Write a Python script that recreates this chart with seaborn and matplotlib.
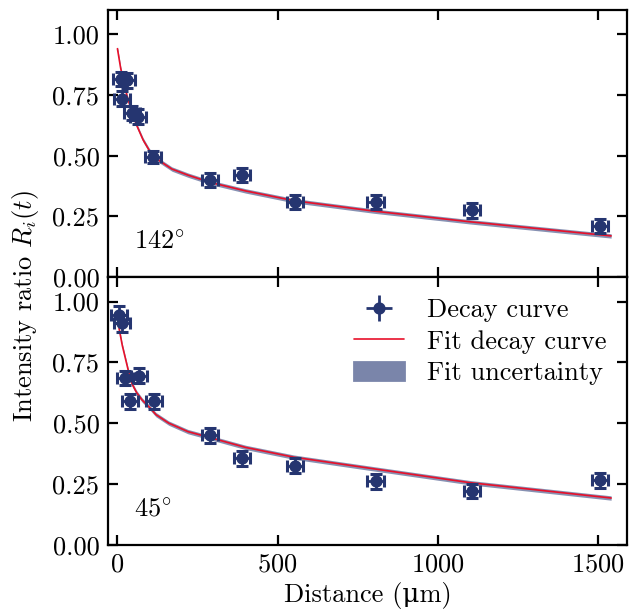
import numpy as np
import pandas as pd
import matplotlib
matplotlib.use("Agg")
import matplotlib.pyplot as plt
import seaborn as sns
from matplotlib.patches import Patch
from matplotlib.lines import Line2D

dist_142 = [10, 30, 15, 45, 65, 110, 290, 390, 555, 805, 1105, 1505]
ratio_142 = [0.815, 0.81, 0.735, 0.675, 0.66, 0.495, 0.40, 0.42, 0.31, 0.31, 0.275, 0.21]
err_142 = [0.03, 0.03, 0.03, 0.03, 0.03, 0.025, 0.03, 0.03, 0.03, 0.03, 0.03, 0.03]

dist_45 = [5, 15, 25, 66, 40, 113, 290, 390, 555, 805, 1105, 1505]
ratio_45 = [0.945, 0.91, 0.685, 0.695, 0.59, 0.59, 0.45, 0.355, 0.325, 0.26, 0.22, 0.265]
err_45 = [0.035, 0.035, 0.03, 0.03, 0.03, 0.03, 0.03, 0.03, 0.03, 0.03, 0.03, 0.03]

dist_err = 25  # incerteza horizontal (um)

# curvas de ajuste
fit_x_142 = [0, 10, 20, 30, 45, 60, 80, 100, 130, 170, 220, 290, 400, 550, 800, 1100, 1540]
fit_y_142 = [0.94, 0.86, 0.80, 0.745, 0.68, 0.625, 0.565, 0.52, 0.48, 0.445, 0.42, 0.39, 0.355, 0.315, 0.272, 0.228, 0.17]
fit_x_45 = [5, 15, 25, 35, 46, 60, 77, 100, 120, 160, 220, 290, 400, 550, 800, 1100, 1540]
fit_y_45 = [0.89, 0.82, 0.765, 0.71, 0.66, 0.625, 0.595, 0.565, 0.535, 0.50, 0.465, 0.44, 0.40, 0.36, 0.312, 0.255, 0.192]
fit_unc = 0.009

angles = [r"$142^{\circ}$", r"$45^{\circ}$"]

sns.set_theme(style="ticks")
plt.rcParams["font.family"] = ["cmr10", "DejaVu Serif"]
plt.rcParams["mathtext.fontset"] = "cm"
plt.rcParams["axes.formatter.use_mathtext"] = True
plt.rcParams["axes.edgecolor"] = "black"
plt.rcParams["xtick.color"] = "black"
plt.rcParams["ytick.color"] = "black"
plt.rcParams["text.color"] = "black"
plt.rcParams["axes.labelcolor"] = "black"
plt.rcParams["axes.linewidth"] = 0.8

fs = 9.5
cor_pontos = "#253570"
cor_fit = "#e8102a"
cor_banda = "#7a85aa"

fig, axes = plt.subplots(2, 1, figsize=(3.19, 3.06), dpi=200, sharex=True)
fig.subplots_adjust(left=0.169, right=0.983, top=0.984, bottom=0.11, hspace=0)

dados = [
    (dist_142, ratio_142, err_142, fit_x_142, fit_y_142),
    (dist_45, ratio_45, err_45, fit_x_45, fit_y_45),
]

for ax, (dx, dy, de, fx, fy), ang in zip(axes, dados, angles):
    fx = np.array(fx)
    fy = np.array(fy)
    ax.fill_between(fx, fy - fit_unc, fy + fit_unc, color=cor_banda, lw=0, alpha=0.9)
    df_fit = pd.DataFrame({"x": fx, "y": fy})
    sns.lineplot(data=df_fit, x="x", y="y", ax=ax, color=cor_fit, lw=0.6)
    ax.errorbar(dx, dy, yerr=de, xerr=dist_err, fmt="o", color=cor_pontos,
                ms=3.4, elinewidth=1.0, capsize=2.0, capthick=1.1)
    ax.set_ylim(0, 1.1)
    ax.set_xlim(-30, 1590)
    ax.set_yticks([0, 0.25, 0.5, 0.75, 1.0])
    ax.set_yticklabels(["0.00", "0.25", "0.50", "0.75", "1.00"])
    ax.set_xticks([0, 500, 1000, 1500])
    ax.tick_params(direction="in", top=True, right=True, length=3.5, width=0.8,
                   labelsize=fs, pad=3)
    ax.set_xlabel("")
    ax.set_ylabel("")
    ax.text(0.05, 0.13, ang, transform=ax.transAxes, fontsize=fs, va="center")

axes[1].set_xlabel("Distance (\u03bcm)", fontsize=fs, labelpad=2)
fig.supylabel(r"Intensity ratio $R_i(t)$", fontsize=fs, x=0.015)

handles = [
    plt.errorbar([], [], yerr=[], xerr=[], fmt="o", color=cor_pontos, ms=3.4,
                 elinewidth=1.0, capsize=2.0, capthick=1.1),
    Line2D([], [], color=cor_fit, lw=0.6),
    Patch(color=cor_banda),
]
axes[1].legend(handles, ["Decay curve", "Fit decay curve", "Fit uncertainty"],
               loc="upper right", frameon=False, fontsize=fs,
               handlelength=1.9, handletextpad=0.85, labelspacing=0.3,
               borderaxespad=0.4)

fig.savefig("out.png", dpi=200)
